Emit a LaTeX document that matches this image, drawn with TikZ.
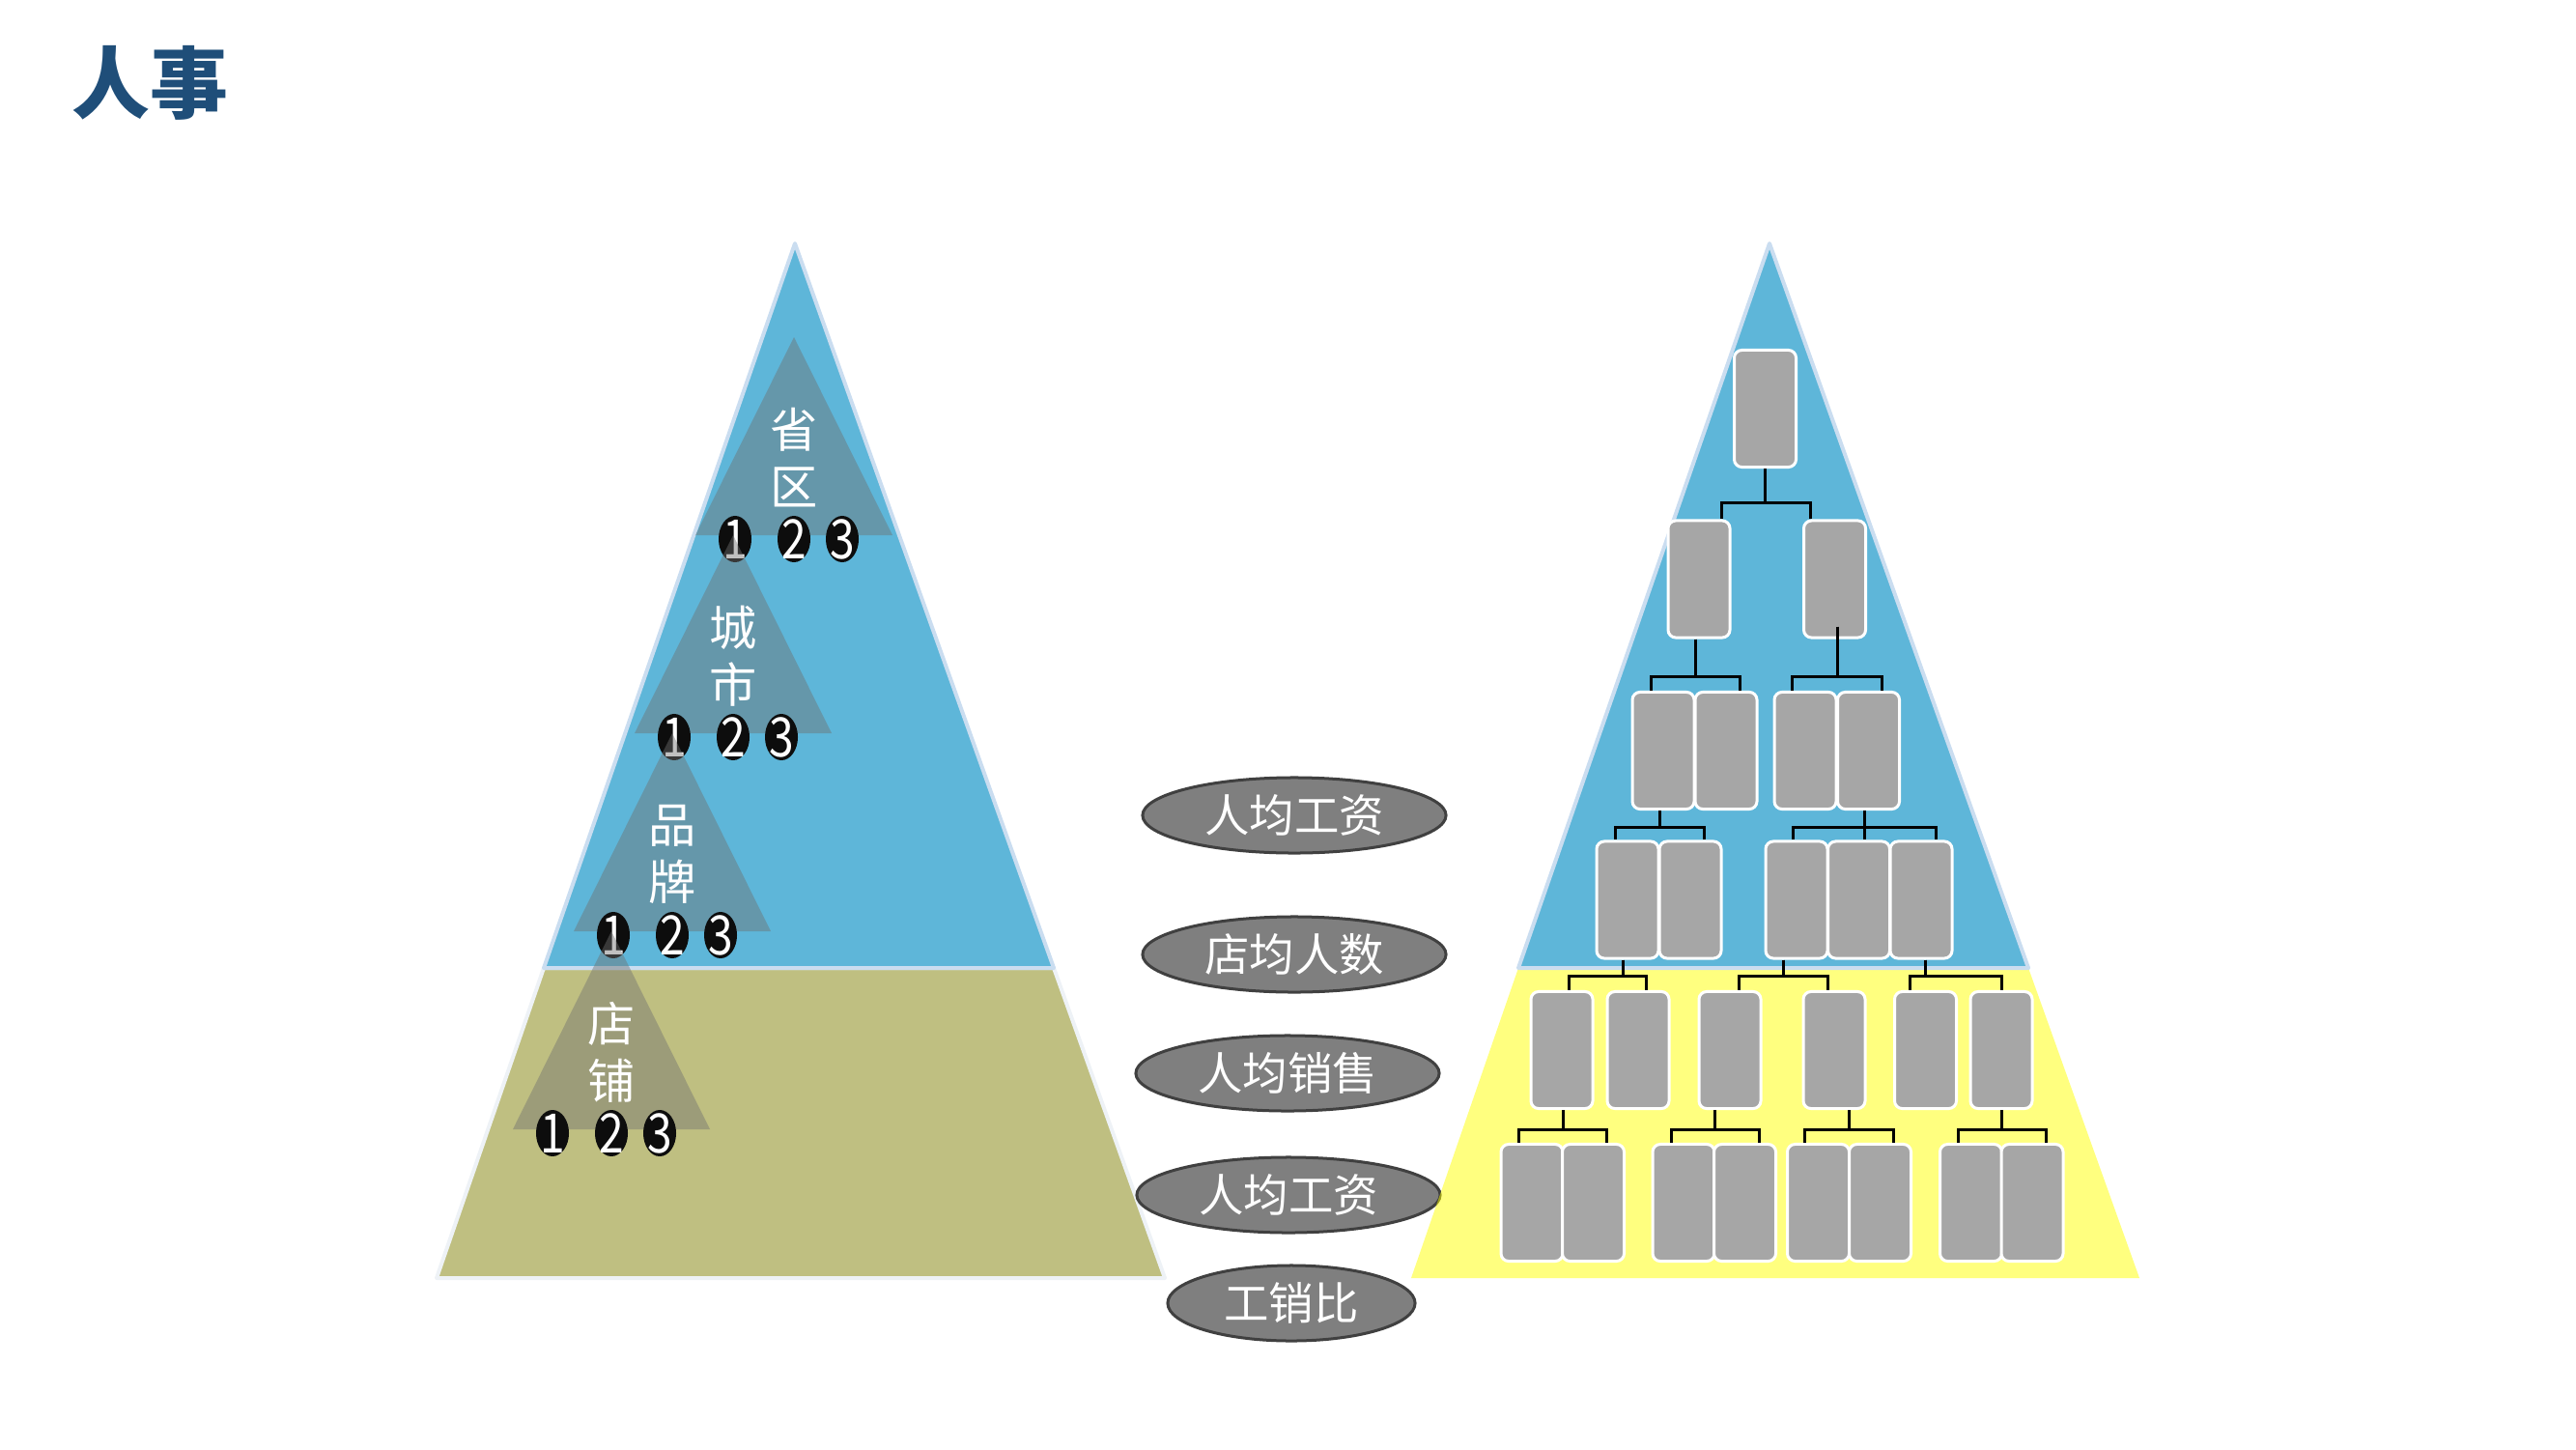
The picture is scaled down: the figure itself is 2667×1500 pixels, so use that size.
\documentclass[tikz,border=0pt]{standalone}
\usepackage{fontspec}
\usepackage{graphicx}
\newfontfamily\cjk{Noto Sans CJK SC}
\usetikzlibrary{shapes.geometric}
\definecolor{pblue}{HTML}{5EB6D9}
\definecolor{polive}{HTML}{BFBF81}
\definecolor{pyellow}{HTML}{FFFF00}
\definecolor{boxgray}{HTML}{A6A6A6}
\definecolor{ellgray}{HTML}{7F7F7F}
\definecolor{ellline}{HTML}{404040}
\definecolor{titleblue}{HTML}{1F4E79}
\definecolor{edgeblue}{HTML}{CADDF0}
\definecolor{edgepale}{HTML}{EEF2F6}
\definecolor{trigray}{HTML}{707070}
\definecolor{digblack}{HTML}{0D0D0D}
\newcommand{\branch}[5]{\draw[conn] ([xshift=#2*0.01cm]#1.south) -- ++(0,#3) -| ([xshift=#5*0.01cm]#4.north);}
\newcommand{\dg}[1]{\scalebox{0.82}[1]{#1}}
\newcommand{\level}[4]{%
  \fill[trigray, fill opacity=0.44] (#2,#3) -- (#2+102,#3+205) -- (#2-102,#3+205) -- cycle;
  \node[lvltext] (#1t) at (#2,#3+125) {#4};
  \node[dig] (#1a) at (#2-61,#3+209) {}; \node[digtxt] at (#1a) {\dg{1}};
  \node[dig] (#1b) at (#2,#3+209) {}; \node[digtxt] at (#1b) {\dg{2}};
  \node[dig] (#1c) at (#2+50,#3+209) {}; \node[digtxt] at (#1c) {\dg{3}};
}
\begin{document}
\begin{tikzpicture}[x=0.01cm,y=-0.01cm,
  title/.style={font=\cjk\bfseries\fontsize{23}{23}\selectfont, text=titleblue, inner sep=0},
  lvltext/.style={font=\cjk\fontsize{14}{16.8}\selectfont, text=white, align=center, inner sep=0},
  dig/.style={ellipse, fill=digblack, minimum width=0.34cm, minimum height=0.48cm, inner sep=0},
  digtxt/.style={font=\cjk\fontsize{16}{16}\selectfont, text=white, inner sep=0},
  metric/.style={ellipse, fill=ellgray, draw=ellline, line width=0.03cm, text=white,
    font=\cjk\fontsize{13.2}{13.2}\selectfont, inner sep=0, minimum width=3.14cm, minimum height=0.78cm},
  orgbox/.style={rectangle, rounded corners=0.08cm, fill=boxgray, draw=white, line width=0.03cm,
    minimum width=0.64cm, minimum height=1.21cm, inner sep=0},
  conn/.style={draw=black, line width=0.03cm}]
\useasboundingbox (0,0) rectangle (2667,1500);

% title
\node[title] (ttl) at (155,86) {人事};

% left pyramid
\filldraw[fill=polive, draw=edgepale, line width=0.04cm, line join=round]
  (452,1323) -- (1206,1323) -- (1091,1002) -- (563,1002) -- cycle;
\filldraw[fill=pblue, draw=edgeblue, line width=0.04cm, line join=round]
  (823,252) -- (1091,1002) -- (563,1002) -- cycle;

\level{lA}{822}{349}{省\\区}
\level{lB}{759}{554}{城\\市}
\level{lC}{696}{759}{品\\牌}
\level{lD}{633}{964}{店\\铺}

% metric ellipses
\node[metric] (m1) at (1340,844) {人均工资};
\node[metric] (m2) at (1340,988) {店均人数};
\node[metric] (m3) at (1333,1111) {人均销售};
\node[metric] (m4) at (1334,1237) {人均工资};
\node[metric, minimum width=2.56cm] (m5) at (1337,1349) {工销比};

% right pyramid
\fill[pyellow, fill opacity=0.5] (1461,1323) -- (2215,1323) -- (2100,1002) -- (1572,1002) -- cycle;
\filldraw[fill=pblue, draw=edgeblue, line width=0.04cm, line join=round]
  (1832,252) -- (2100,1002) -- (1572,1002) -- cycle;

% org boxes
\node[orgbox] (r1) at (1827.5,423) {};
\node[orgbox] (r2a) at (1759,599.5) {};
\node[orgbox] (r2b) at (1899.5,599.5) {};
\node[orgbox] (r3a) at (1722,777) {};
\node[orgbox] (r3b) at (1787,777) {};
\node[orgbox] (r3c) at (1869,777) {};
\node[orgbox] (r3d) at (1934.5,777) {};
\node[orgbox] (r4a) at (1685,931.5) {};
\node[orgbox] (r4b) at (1750,931.5) {};
\node[orgbox] (r4c) at (1860,931.5) {};
\node[orgbox] (r4d) at (1924.5,931.5) {};
\node[orgbox] (r4e) at (1989,931.5) {};
\node[orgbox] (r5a) at (1617,1087) {};
\node[orgbox] (r5b) at (1696,1087) {};
\node[orgbox] (r5c) at (1791,1087) {};
\node[orgbox] (r5d) at (1899,1087) {};
\node[orgbox] (r5e) at (1993.5,1087) {};
\node[orgbox] (r5f) at (2072,1087) {};
\node[orgbox] (r6a) at (1586,1245) {};
\node[orgbox] (r6b) at (1649.5,1245) {};
\node[orgbox] (r6c) at (1743,1245) {};
\node[orgbox] (r6d) at (1806.5,1245) {};
\node[orgbox] (r6e) at (1882.5,1245) {};
\node[orgbox] (r6f) at (1946.5,1245) {};
\node[orgbox] (r6g) at (2040.5,1245) {};
\node[orgbox] (r6h) at (2104,1245) {};

% connectors
\branch{r1}{0}{35.5}{r2a}{23}
\branch{r1}{0}{35.5}{r2b}{-25.5}
\branch{r2a}{-4}{39}{r3a}{-13}
\branch{r2a}{-4}{39}{r3b}{14}
\draw[conn] ([xshift=2.5*0.01cm,yshift=13*0.01cm]r2b.south) -- ++(0,52) -| ([xshift=-14*0.01cm]r3c.north);
\draw[conn] ([xshift=2.5*0.01cm,yshift=13*0.01cm]r2b.south) -- ++(0,52) -| ([xshift=13.5*0.01cm]r3d.north);
\branch{r3a}{-4}{17.5}{r4a}{-13}
\branch{r3a}{-4}{17.5}{r4b}{14}
\branch{r3d}{-4.5}{17.5}{r4c}{-4}
\branch{r3d}{-4.5}{17.5}{r4d}{5.5}
\branch{r3d}{-4.5}{17.5}{r4e}{15}
\branch{r4a}{-5}{17}{r5a}{7}
\branch{r4a}{-5}{17}{r5b}{8}
\branch{r4c}{-14}{17}{r5c}{9}
\branch{r4c}{-14}{17}{r5d}{-7}
\branch{r4e}{4}{17}{r5e}{-16.5}
\branch{r4e}{4}{17}{r5f}{0}
\branch{r5a}{1}{20.5}{r6a}{-14}
\branch{r5a}{1}{20.5}{r6b}{13.5}
\branch{r5c}{-16}{20.5}{r6c}{-13}
\branch{r5c}{-16}{20.5}{r6d}{14.5}
\branch{r5d}{15}{20.5}{r6e}{-14.5}
\branch{r5d}{15}{20.5}{r6f}{13.5}
\branch{r5f}{0}{20.5}{r6g}{-13.5}
\branch{r5f}{0}{20.5}{r6h}{14}
\end{tikzpicture}
\end{document}
